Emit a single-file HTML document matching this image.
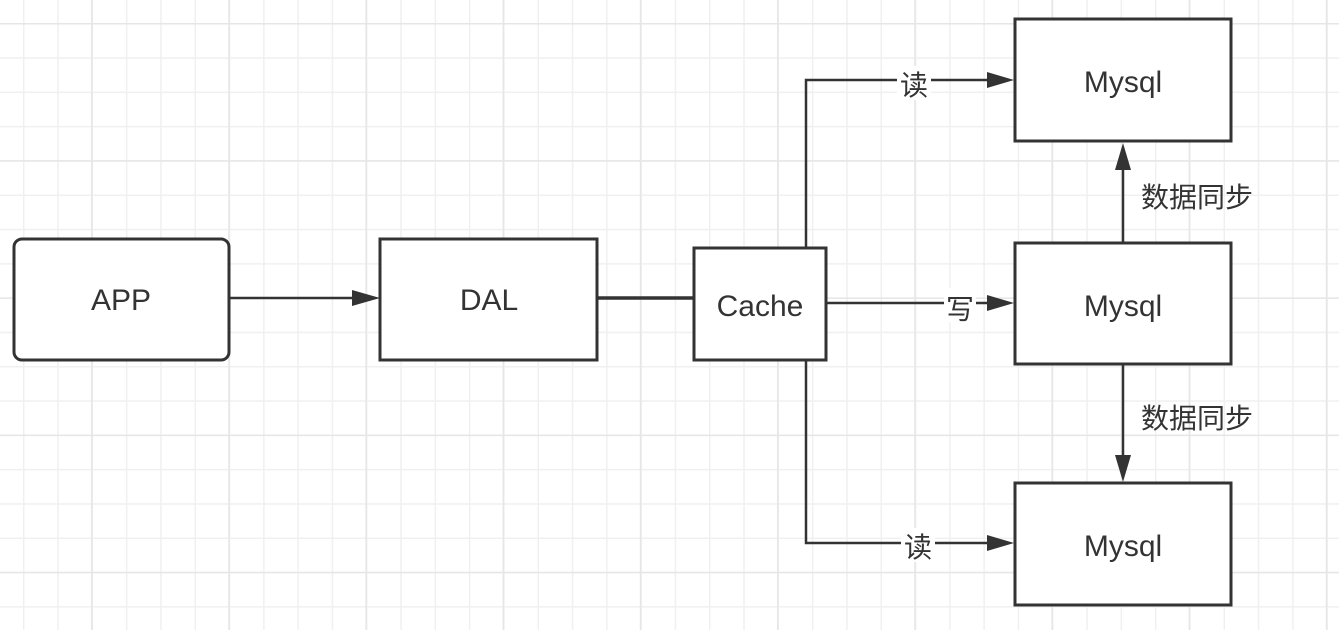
<!DOCTYPE html>
<html><head><meta charset="utf-8"><style>
html,body{margin:0;padding:0;background:#fff;width:1339px;height:630px;overflow:hidden}
svg{display:block}
text{font-family:"Liberation Sans","Noto Sans CJK SC",sans-serif;fill:#333}
</style></head><body>
<svg width="1339" height="630" xmlns="http://www.w3.org/2000/svg">
<defs>
<pattern id="g" x="23" y="23" width="34.3" height="34.3" patternUnits="userSpaceOnUse">
<path d="M0 0V34.3M0 0H34.3" stroke="#f0f0f0" stroke-width="3" fill="none"/>
</pattern>
<pattern id="G" x="91" y="23" width="137.2" height="137.2" patternUnits="userSpaceOnUse">
<path d="M0 0V137.2M0 0H137.2" stroke="#e6e6e6" stroke-width="3" fill="none"/>
</pattern>
</defs>
<rect width="1339" height="630" fill="url(#g)"/>
<rect width="1339" height="630" fill="url(#G)"/>
<g stroke="#333" stroke-width="3" fill="#fff">
<rect x="14" y="239" width="215" height="121" rx="8"/>
<rect x="380" y="239" width="217" height="121"/>
<rect x="694" y="248" width="132" height="112"/>
<rect x="1015" y="19" width="216" height="122"/>
<rect x="1015" y="243" width="216" height="121"/>
<rect x="1015" y="483" width="216" height="122"/>
</g>
<g stroke="#333" stroke-width="2.5" fill="none">
<path d="M230 298H355"/>
<path d="M598 298H693" stroke-width="3.5"/>
<path d="M827 303H990"/>
<path d="M806 247V80H990"/>
<path d="M806 361V543H990"/>
<path d="M1123 242V168"/>
<path d="M1123 365V457"/>
</g>
<g fill="#333">
<path d="M352 290L380 298L352 306Z"/>
<path d="M987 295L1014 303L987 311Z"/>
<path d="M987 72L1014 80L987 88Z"/>
<path d="M987 535L1014 543L987 551Z"/>
<path d="M1115 170L1123 143L1131 170Z"/>
<path d="M1115 455L1123 482L1131 455Z"/>
</g>
<g fill="#fff">
<rect x="897" y="66" width="34" height="34"/>
<rect x="944" y="288" width="32" height="34"/>
<rect x="901" y="528" width="34" height="34"/>
</g>
<g font-size="30" text-anchor="middle">
<text x="121" y="310">APP</text>
<text x="489" y="310">DAL</text>
<text x="760" y="316">Cache</text>
<text x="1123" y="92">Mysql</text>
<text x="1123" y="316">Mysql</text>
<text x="1123" y="556">Mysql</text>
</g>
<g font-size="28" text-anchor="middle">
<text x="914" y="95">读</text>
<text x="960" y="319">写</text>
<text x="918" y="557">读</text>
<text x="1197" y="207">数据同步</text>
<text x="1197" y="428">数据同步</text>
</g>
</svg>
</body></html>
